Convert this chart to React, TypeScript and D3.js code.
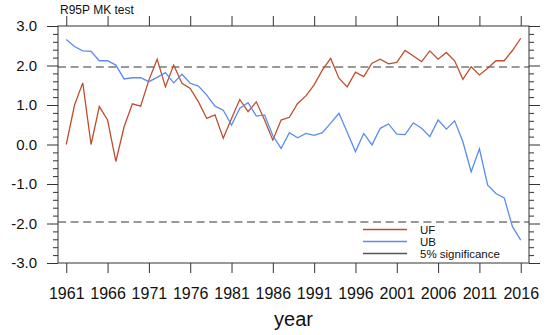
import React, { useRef, useEffect } from 'react';
import * as d3 from 'd3';

// R95P Mann-Kendall test, 1961-2016
const years: number[] = d3.range(1961, 2017);

const ufValues: number[] = [
    0.00, 1.00, 1.56, 0.00, 0.96, 0.62, -0.43, 0.45, 1.03, 0.97,
    1.63, 2.16, 1.46, 2.01, 1.55, 1.42, 1.08, 0.66, 0.75, 0.16,
    0.66, 1.14, 0.83, 1.08, 0.62, 0.11, 0.62, 0.69, 1.04, 1.23,
    1.51, 1.89, 2.18, 1.68, 1.46, 1.83, 1.72, 2.06, 2.16, 2.04,
    2.08, 2.38, 2.24, 2.10, 2.37, 2.16, 2.33, 2.12, 1.65, 1.97,
    1.76, 1.93, 2.12, 2.12, 2.38, 2.69,
];

const ubValues: number[] = [
    2.66, 2.48, 2.37, 2.36, 2.12, 2.12, 2.01, 1.66, 1.69, 1.69,
    1.59, 1.70, 1.82, 1.56, 1.78, 1.55, 1.48, 1.25, 0.97, 0.87,
    0.49, 0.92, 1.06, 0.72, 0.75, 0.22, -0.10, 0.30, 0.17, 0.28,
    0.23, 0.30, 0.54, 0.79, 0.31, -0.18, 0.28, -0.01, 0.41, 0.52,
    0.26, 0.25, 0.55, 0.41, 0.20, 0.62, 0.39, 0.60, 0.07, -0.69,
    -0.11, -1.03, -1.24, -1.35, -2.08, -2.42,
];

const significance: number[] = [-1.96, 1.96];
const xTickYears: number[] = [1961, 1966, 1971, 1976, 1981, 1986, 1991, 1996, 2001, 2006, 2011, 2016];
const yTicks: number[] = [-3, -2, -1, 0, 1, 2, 3];
const legendLabels: string[] = ['UF', 'UB', '5% significance'];

const App: React.FC = () => {
    const svgRef = useRef<SVGSVGElement>(null);
    const width = 550;
    const height = 335;

    useEffect(() => {
        if (!svgRef.current) return;
        const svg = d3.select(svgRef.current);
        svg.selectAll('*').remove();

        const margin = { top: 26, right: 21, bottom: 72, left: 58 };
        const x0 = margin.left;
        const x1 = width - margin.right;
        const y0 = margin.top;
        const y1 = height - margin.bottom;

        const font = 'Liberation Sans, Arial, Helvetica, sans-serif';
        const axisColor = '#333';

        const xScale = d3.scaleLinear().domain([1960, 2017]).range([x0, x1]);
        const yScale = d3.scaleLinear().domain([-3, 3]).range([y1, y0]);

        const minorY = d3.range(-30, 31, 2).map(v => v / 10).filter(v => !yTicks.includes(v));

        const styleAxis = (sel: d3.Selection<SVGGElement, unknown, null, undefined>) => {
            sel.select('.domain').remove();
            sel.selectAll('.tick line').attr('stroke', axisColor).attr('stroke-width', 1);
        };

        // plain hyphen for negatives, like the original
        const yFormat = (d: d3.NumberValue) => (d as number).toFixed(1);

        // Left axis (labelled)
        const left = svg.append('g')
            .attr('transform', `translate(${x0},0)`)
            .call(d3.axisLeft(yScale).tickValues(yTicks).tickSize(11).tickPadding(10).tickFormat(yFormat));
        styleAxis(left);
        left.selectAll('.tick text')
            .attr('font-family', font)
            .attr('font-size', '15px')
            .attr('fill', '#111');

        svg.append('g')
            .attr('transform', `translate(${x0},0)`)
            .call(d3.axisLeft(yScale).tickValues(minorY).tickSize(5).tickFormat(() => ''))
            .call(styleAxis);

        // Right axis (ticks only)
        svg.append('g')
            .attr('transform', `translate(${x1},0)`)
            .call(d3.axisRight(yScale).tickValues(yTicks).tickSize(11).tickFormat(() => ''))
            .call(styleAxis);
        svg.append('g')
            .attr('transform', `translate(${x1},0)`)
            .call(d3.axisRight(yScale).tickValues(minorY).tickSize(5).tickFormat(() => ''))
            .call(styleAxis);

        // Bottom axis (labelled)
        const bottom = svg.append('g')
            .attr('transform', `translate(0,${y1})`)
            .call(d3.axisBottom(xScale).tickValues(xTickYears).tickSize(10).tickPadding(15).tickFormat(d => `${d}`));
        styleAxis(bottom);
        bottom.selectAll('.tick text')
            .attr('font-family', font)
            .attr('font-size', '16px')
            .attr('fill', '#111');

        // Top axis (ticks only)
        svg.append('g')
            .attr('transform', `translate(0,${y0})`)
            .call(d3.axisTop(xScale).tickValues(xTickYears).tickSize(10).tickFormat(() => ''))
            .call(styleAxis);

        // Significance lines
        significance.forEach(v => {
            svg.append('line')
                .attr('x1', x0)
                .attr('x2', x1)
                .attr('y1', yScale(v))
                .attr('y2', yScale(v))
                .attr('stroke', '#999')
                .attr('stroke-width', 2)
                .attr('stroke-dasharray', '8 4.6');
        });

        const lineGen = d3.line<number>()
            .x((_, i) => xScale(years[i]))
            .y(d => yScale(d));

        const colors = ['#bd4f2e', '#5b8cef', '#555'];

        svg.append('path')
            .datum(ufValues)
            .attr('fill', 'none')
            .attr('stroke', colors[0])
            .attr('stroke-width', 1.3)
            .attr('d', lineGen);

        svg.append('path')
            .datum(ubValues)
            .attr('fill', 'none')
            .attr('stroke', colors[1])
            .attr('stroke-width', 1.3)
            .attr('d', lineGen);

        // Frame
        svg.append('rect')
            .attr('x', x0)
            .attr('y', y0)
            .attr('width', x1 - x0)
            .attr('height', y1 - y0)
            .attr('fill', 'none')
            .attr('stroke', axisColor)
            .attr('stroke-width', 1);

        // Legend
        legendLabels.forEach((label, i) => {
            const ly = 229.5 + i * 12;
            svg.append('line')
                .attr('x1', 363)
                .attr('x2', 407)
                .attr('y1', ly)
                .attr('y2', ly)
                .attr('stroke', colors[i])
                .attr('stroke-width', 1.3);
            svg.append('text')
                .attr('x', 420)
                .attr('y', ly + 4)
                .text(label)
                .attr('fill', '#111')
                .attr('font-family', font)
                .attr('font-size', '11.5px');
        });

        // Title and axis label
        svg.append('text')
            .attr('x', 60)
            .attr('y', 13.5)
            .text('R95P MK test')
            .attr('fill', '#111')
            .attr('font-family', font)
            .attr('font-size', '12px');

        svg.append('text')
            .attr('x', (x0 + x1) / 2)
            .attr('y', 326)
            .attr('text-anchor', 'middle')
            .text('year')
            .attr('fill', '#111')
            .attr('font-family', font)
            .attr('font-size', '20px');
    }, []);

    return (
        <svg
            ref={svgRef}
            width={width}
            height={height}
            style={{ position: 'absolute', left: 0, top: 0, background: '#fff' }}
        />
    );
};

export default App;
